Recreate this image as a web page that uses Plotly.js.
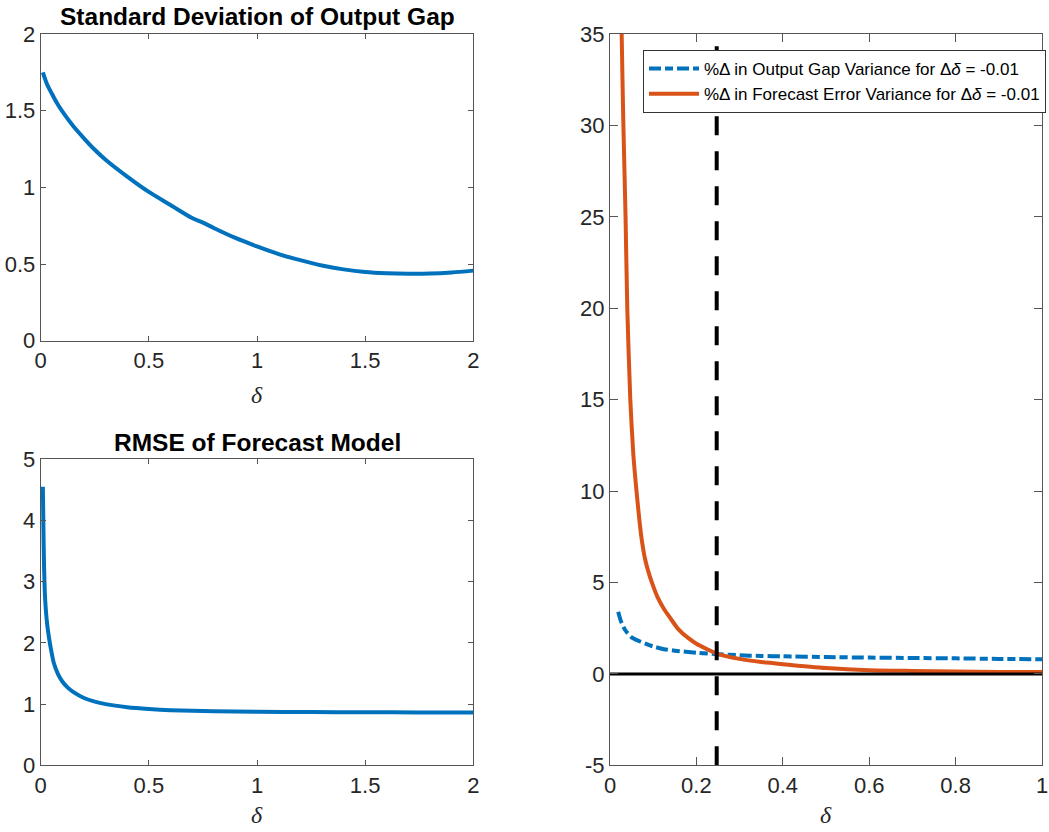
<!DOCTYPE html>
<html>
<head>
<meta charset="utf-8">
<script src="https://cdn.plot.ly/plotly-3.0.1.min.js"></script>
<style>html,body{margin:0;padding:0;background:#fff;}#chart{width:1049px;height:832px;}</style>
</head>
<body>
<div id="chart"></div>
<script>
// ---- Data ----
const sdDelta = [0.01,0.03,0.05,0.075,0.1,0.15,0.2,0.25,0.3,0.4,0.5,0.6,0.7,0.75,0.8,0.9,1.0,1.1,1.2,1.3,1.4,1.5,1.6,1.7,1.8,1.9,2.0];
const sdOutputGap = [1.75,1.67,1.615,1.55,1.495,1.40,1.32,1.245,1.18,1.07,0.97,0.885,0.80,0.77,0.735,0.67,0.615,0.565,0.525,0.49,0.465,0.448,0.44,0.437,0.438,0.445,0.457];

const rmseDelta = [0.01,0.0125,0.015,0.02,0.03,0.04,0.05,0.06,0.08,0.1,0.125,0.15,0.2,0.25,0.3,0.4,0.5,0.6,0.8,1.0,1.25,1.5,1.75,2.0];
const rmseForecast = [4.55,3.9,3.35,2.75,2.3,2.05,1.85,1.68,1.49,1.37,1.27,1.2,1.1,1.04,1.0,0.95,0.92,0.9,0.885,0.875,0.87,0.866,0.864,0.862];

const gapDelta = [0.019,0.025,0.035,0.05,0.07,0.1,0.125,0.15,0.2,0.25,0.3,0.35,0.4,0.5,0.6,0.7,0.8,0.9,1.0];
const gapVarChange = [3.4,2.9,2.4,2.0,1.77,1.5,1.35,1.27,1.16,1.08,1.02,0.98,0.96,0.92,0.89,0.87,0.85,0.82,0.80];

const errDelta = [0.024,0.027,0.031,0.036,0.040,0.047,0.054,0.063,0.072,0.081,0.09,0.1,0.11,0.125,0.138,0.158,0.18,0.2,0.225,0.248,0.3,0.35,0.4,0.5,0.6,0.7,0.8,0.9,1.0];
const errVarChange = [40,35,30,25,20,15,12,9.6,7.6,6.3,5.5,4.8,4.2,3.55,3.1,2.45,1.98,1.65,1.35,1.1,0.82,0.65,0.53,0.32,0.2,0.16,0.13,0.11,0.1];

const markerDelta = [0.247,0.247];
const markerRange = [-5,35];
const zeroDelta = [0,1];
const zeroLevel = [0,0];

const leftXTicks = [0,0.5,1,1.5,2];
const leftXLabels = ['0','0.5','1','1.5','2'];
const topYTicks = [0,0.5,1,1.5,2];
const topYLabels = ['0','0.5','1','1.5','2'];
const botYTicks = [0,1,2,3,4,5];
const botYLabels = ['0','1','2','3','4','5'];
const rightXTicks = [0,0.2,0.4,0.6,0.8,1];
const rightXLabels = ['0','0.2','0.4','0.6','0.8','1'];
const rightYTicks = [-5,0,5,10,15,20,25,30,35];
const rightYLabels = ['-5','0','5','10','15','20','25','30','35'];

const legendGap = '%Δ in Output Gap Variance for Δ<i>δ</i> = -0.01';
const legendErr = '%Δ in Forecast Error Variance for Δ<i>δ</i> = -0.01';

// ---- Styling ----
const W = 1049, H = 832;
const BLUE = '#0072BD', ORANGE = '#D95319';
const AXC = '#555555', TXT = '#262626';
const FONT = 'Liberation Sans, Arial, sans-serif';
const fx = p => p / W;
const fy = p => 1 - p / H;

function axis(domain, range, tv, tt, anchor, ticklen) {
  return {
    domain: domain, range: range, anchor: anchor,
    tickmode: 'array', tickvals: tv, ticktext: tt,
    ticks: 'inside', ticklen: ticklen, tickwidth: 1, tickcolor: AXC,
    showline: true, linecolor: AXC, linewidth: 1, mirror: 'allticks',
    showgrid: false, zeroline: false, fixedrange: true,
    tickfont: {family: FONT, size: 22, color: TXT}
  };
}

const traces = [
  {x: sdDelta, y: sdOutputGap, xaxis: 'x', yaxis: 'y', type: 'scatter', mode: 'lines',
   line: {color: BLUE, width: 4, shape: 'spline', smoothing: 0.8}, showlegend: false},
  {x: rmseDelta, y: rmseForecast, xaxis: 'x2', yaxis: 'y2', type: 'scatter', mode: 'lines',
   line: {color: BLUE, width: 4, shape: 'spline', smoothing: 0.6}, showlegend: false},
  {x: gapDelta, y: gapVarChange, xaxis: 'x3', yaxis: 'y3', type: 'scatter', mode: 'lines',
   name: legendGap, line: {color: BLUE, width: 4, dash: '12px,4px,8px,4px', shape: 'spline', smoothing: 0.6}},
  {x: errDelta, y: errVarChange, xaxis: 'x3', yaxis: 'y3', type: 'scatter', mode: 'lines',
   name: legendErr, line: {color: ORANGE, width: 4, shape: 'spline', smoothing: 0.6}},
  {x: markerDelta, y: markerRange, xaxis: 'x3', yaxis: 'y3', type: 'scatter', mode: 'lines',
   line: {color: '#000', width: 4, dash: '19px,16px'}, showlegend: false},
  {x: zeroDelta, y: zeroLevel, xaxis: 'x3', yaxis: 'y3', type: 'scatter', mode: 'lines',
   line: {color: '#000', width: 3}, showlegend: false}
];

const leftDom = [fx(40.7), fx(473.3)];
const rightDom = [fx(610), fx(1042)];
const topDom = [fy(340.7), fy(34)];
const botDom = [fy(765.3), fy(459.3)];
const rDom = [fy(765.3), fy(34)];

const deltaFont = {family: 'Liberation Serif, serif', size: 24, color: TXT};

const layout = {
  width: W, height: H,
  margin: {l: 0, r: 0, t: 0, b: 0},
  paper_bgcolor: '#fff', plot_bgcolor: '#fff',
  font: {family: FONT, color: TXT},
  xaxis: axis(leftDom, [0, 2], leftXTicks, leftXLabels, 'y', 5),
  yaxis: axis(topDom, [0, 2], topYTicks, topYLabels, 'x', 5),
  xaxis2: axis(leftDom, [0, 2], leftXTicks, leftXLabels, 'y2', 5),
  yaxis2: axis(botDom, [0, 5], botYTicks, botYLabels, 'x2', 5),
  xaxis3: axis(rightDom, [0, 1], rightXTicks, rightXLabels, 'y3', 8),
  yaxis3: axis(rDom, [-5, 35], rightYTicks, rightYLabels, 'x3', 8),
  showlegend: true,
  legend: {
    x: fx(643), y: fy(50), xanchor: 'left', yanchor: 'top',
    bgcolor: '#fff', bordercolor: '#333', borderwidth: 1,
    font: {family: FONT, size: 17, color: '#000'},
    itemwidth: 50, tracegroupgap: 0
  },
  annotations: [
    {text: '<b>Standard Deviation of Output Gap</b>', x: fx(257), y: fy(17), xref: 'paper', yref: 'paper',
     showarrow: false, xanchor: 'center', yanchor: 'middle', font: {family: FONT, size: 24.5, color: '#000'}},
    {text: '<b>RMSE of Forecast Model</b>', x: fx(257), y: fy(442), xref: 'paper', yref: 'paper',
     showarrow: false, xanchor: 'center', yanchor: 'middle', font: {family: FONT, size: 24.5, color: '#000'}},
    {text: '<i>δ</i>', x: fx(257), y: fy(395), xref: 'paper', yref: 'paper', showarrow: false,
     xanchor: 'center', yanchor: 'middle', font: deltaFont},
    {text: '<i>δ</i>', x: fx(257), y: fy(815), xref: 'paper', yref: 'paper', showarrow: false,
     xanchor: 'center', yanchor: 'middle', font: deltaFont},
    {text: '<i>δ</i>', x: fx(826), y: fy(815), xref: 'paper', yref: 'paper', showarrow: false,
     xanchor: 'center', yanchor: 'middle', font: deltaFont}
  ]
};

Plotly.newPlot('chart', traces, layout, {displayModeBar: false, staticPlot: true});
</script>
</body>
</html>
